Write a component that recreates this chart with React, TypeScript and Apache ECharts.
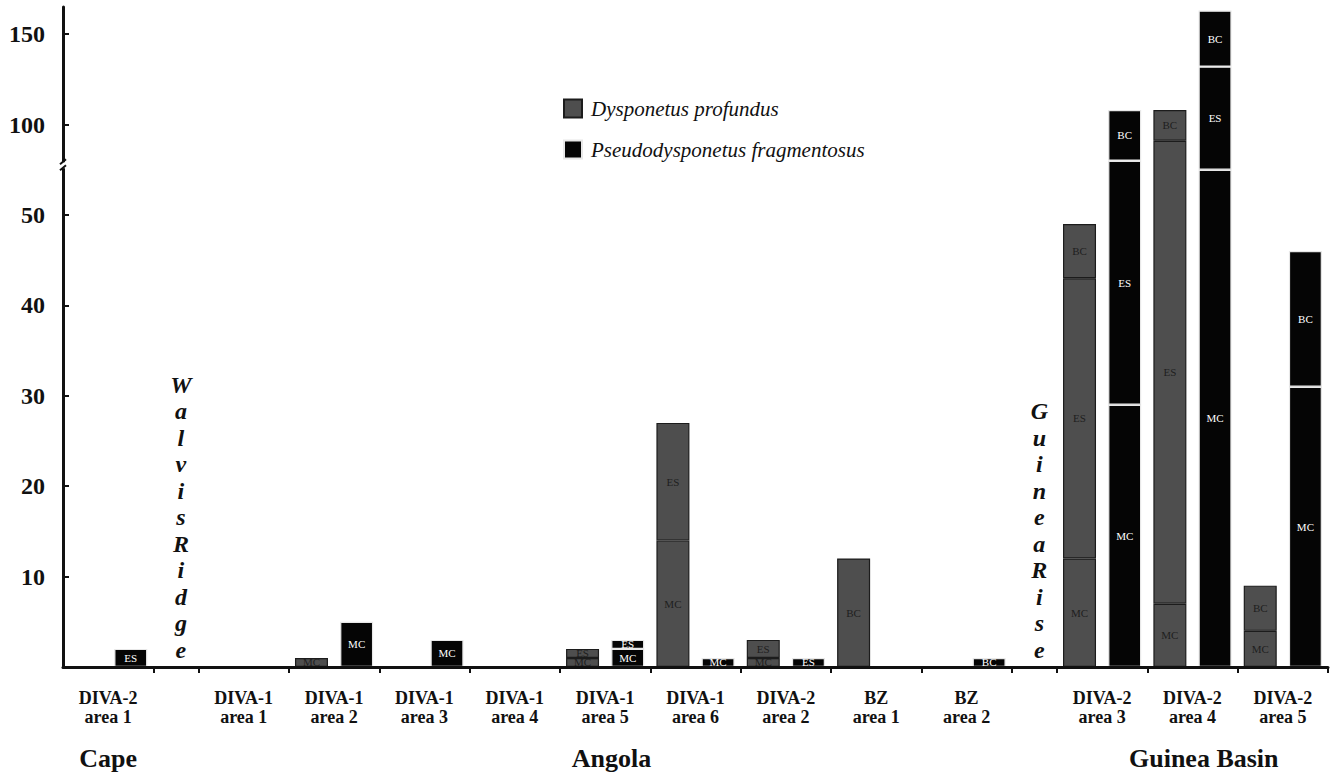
import React, { useEffect, useRef } from "react";
import * as echarts from "echarts";

const SERIF = "Liberation Serif";

// x groups in order (ridges take half the width of a sampling area)
const groups = [
  "DIVA-2\narea 1",
  "Walvis Ridge",
  "DIVA-1\narea 1",
  "DIVA-1\narea 2",
  "DIVA-1\narea 3",
  "DIVA-1\narea 4",
  "DIVA-1\narea 5",
  "DIVA-1\narea 6",
  "DIVA-2\narea 2",
  "BZ\narea 1",
  "BZ\narea 2",
  "Guinea Rise",
  "DIVA-2\narea 3",
  "DIVA-2\narea 4",
  "DIVA-2\narea 5",
];
const ridges = ["Walvis Ridge", "Guinea Rise"];
const areas = groups.filter((g) => !ridges.includes(g));

const regions = [
  { name: "Cape", from: "DIVA-2\narea 1", to: "DIVA-2\narea 1" },
  { name: "Angola", from: "DIVA-1\narea 1", to: "BZ\narea 2" },
  { name: "Guinea Basin", from: "DIVA-2\narea 3", to: "DIVA-2\narea 5" },
];

// counts per area (same order as `areas`)
const profundusMC = [0, 0, 1, 0, 0, 1, 14, 1, 0, 0, 12, 7, 4];
const profundusES = [0, 0, 0, 0, 0, 1, 13, 2, 0, 0, 31, 84, 0];
const profundusBC = [0, 0, 0, 0, 0, 0, 0, 0, 12, 0, 6, 17, 5];
const fragmentosusMC = [0, 0, 5, 3, 0, 2, 1, 0, 0, 0, 29, 55, 31];
const fragmentosusES = [2, 0, 0, 0, 0, 1, 0, 1, 0, 0, 51, 77, 0];
const fragmentosusBC = [0, 0, 0, 0, 0, 0, 0, 0, 0, 1, 28, 31, 15];

const segmentNames = ["MC", "ES", "BC"];
const yTickValues = [10, 20, 30, 40, 50, 100, 150];

// broken axis: linear up to 55, gap, then compressed scale from 75 upward
const BREAK_LOW = 55;
const BREAK_HIGH = 75;
const UPPER_COMPRESS = 5;
const T = (v: number) => (v <= BREAK_LOW ? v : BREAK_LOW + (v - BREAK_HIGH) / UPPER_COMPRESS);

export default function App() {
  const ref = useRef<HTMLDivElement>(null);

  useEffect(() => {
    if (!ref.current) return;
    const chart = echarts.init(ref.current, undefined, { renderer: "svg" });

    // layout of the x scale in half-slot units
    let cursor = 0;
    const center: Record<string, number> = {};
    const starts: Record<string, number> = {};
    const ends: Record<string, number> = {};
    const boundaries: number[] = [];
    groups.forEach((g) => {
      const w = ridges.includes(g) ? 1 : 2;
      starts[g] = cursor;
      center[g] = cursor + w / 2;
      cursor += w;
      ends[g] = cursor;
      boundaries.push(cursor);
    });
    const xMax = cursor;
    const slots = Array.from({ length: xMax }, (_, i) => "s" + i);
    const regionShift: Record<string, number> = { Cape: 0, Angola: 0.14, "Guinea Basin": 0.25 };

    const species = [
      {
        name: "Dysponetus profundus",
        segs: [profundusMC, profundusES, profundusBC],
        color: "#4e4e4e",
        border: "#1c1c1c",
        labelColor: "#1e1e1e",
        slotOffset: 0,
        stack: "p",
      },
      {
        name: "Pseudodysponetus fragmentosus",
        segs: [fragmentosusMC, fragmentosusES, fragmentosusBC],
        color: "#050505",
        border: "#e8e8e8",
        labelColor: "#ffffff",
        slotOffset: 1,
        stack: "f",
      },
    ];

    const series: any[] = [];
    species.forEach((sp) => {
      sp.segs.forEach((seg, k) => {
        const data: any[] = slots.map(() => "-");
        areas.forEach((a, i) => {
          let prev = 0;
          for (let j = 0; j < k; j++) prev += sp.segs[j][i];
          const cur = prev + seg[i];
          const item: any = { value: T(cur) - T(prev), raw: seg[i] };
          if (seg[i] === 0) item.itemStyle = { borderWidth: 0 };
          data[starts[a] + sp.slotOffset] = item;
        });
        series.push({
          type: "bar",
          name: sp.name,
          stack: sp.stack,
          xAxisIndex: 1,
          barWidth: 33,
          barGap: "-100%",
          itemStyle: { color: sp.color, borderColor: sp.border, borderWidth: 1.2 },
          label: {
            show: true,
            position: "inside",
            fontFamily: SERIF,
            fontSize: 11,
            color: sp.labelColor,
            formatter: (p: any) => (p.data && p.data.raw > 0 ? segmentNames[k] : ""),
          },
          data,
        });
      });
    });

    // ridge vertical labels
    series.push({
      type: "scatter",
      symbolSize: 0,
      silent: true,
      clip: false,
      z: 3,
      itemStyle: { opacity: 1 },
      label: {
        show: true,
        position: "top",
        distance: 4,
        fontFamily: SERIF,
        fontStyle: "italic",
        fontWeight: "bold",
        fontSize: 24,
        lineHeight: 26.5,
        color: "#111",
        formatter: (p: any) => p.name,
      },
      data: ridges.map((r) => ({
        name: r.replace(" ", "").split("").join("\n"),
        value: [center[r] + 0.11, 0],
      })),
    });

    // region labels
    series.push({
      type: "scatter",
      symbolSize: 0,
      silent: true,
      clip: false,
      itemStyle: { opacity: 1 },
      label: {
        show: true,
        position: "bottom",
        distance: 78,
        fontFamily: SERIF,
        fontWeight: "bold",
        fontSize: 26,
        color: "#111",
        formatter: (p: any) => p.name,
      },
      data: regions.map((r) => ({
        name: r.name,
        value: [(starts[r.from] + ends[r.to]) / 2 + regionShift[r.name], 0],
      })),
    });

    const labelByKey: Record<string, string> = {};
    areas.forEach((a) => (labelByKey[String(Math.round(center[a] * 2))] = a));

    chart.setOption({
      animation: false,
      backgroundColor: "#ffffff",
      grid: { left: 63, right: 7, top: 7, bottom: 106 },
      legend: {
        data: species.map((s) => s.name),
        orient: "vertical",
        left: 563,
        top: 98,
        padding: 0,
        itemWidth: 18,
        itemHeight: 18,
        itemGap: 20,
        icon: "rect",
        selectedMode: false,
        textStyle: {
          fontFamily: SERIF,
          fontStyle: "italic",
          fontSize: 21,
          color: "#111",
          padding: [0, 0, 0, 4],
        },
      },
      xAxis: [
        {
          type: "value",
          min: 0,
          max: xMax,
          z: 5,
          splitLine: { show: false },
          axisLine: { show: true, lineStyle: { color: "#111", width: 3 } },
          axisTick: {
            show: true,
            length: 6,
            customValues: boundaries,
            lineStyle: { color: "#111", width: 2 },
          },
          axisLabel: {
            show: true,
            customValues: areas.map((a) => center[a]),
            margin: 21,
            fontFamily: SERIF,
            fontWeight: "bold",
            fontSize: 18,
            lineHeight: 19,
            color: "#111",
            formatter: (v: number) => labelByKey[String(Math.round(v * 2))] || "",
          },
        },
        {
          type: "category",
          data: slots,
          show: false,
          boundaryGap: true,
        },
      ],
      yAxis: {
        type: "value",
        min: 0,
        max: 73,
        z: 5,
        splitLine: { show: false },
        axisLine: { show: true, lineStyle: { color: "#111", width: 3 } },
        axisTick: {
          show: true,
          inside: true,
          length: 6,
          customValues: yTickValues.map(T),
          lineStyle: { color: "#111", width: 2 },
        },
        axisLabel: {
          show: true,
          customValues: yTickValues.map(T),
          margin: 18,
          fontFamily: SERIF,
          fontWeight: "bold",
          fontSize: 24,
          color: "#111",
          formatter: (v: number) => {
            const match = yTickValues.find((t) => Math.abs(T(t) - v) < 1e-6);
            return match !== undefined ? String(match) : "";
          },
        },
      },
      series,
    });

    // axis break marker
    const p = chart.convertToPixel({ xAxisIndex: 0, yAxisIndex: 0 }, [0, 55.5]) as number[];
    if (p) {
      const [bx, by] = p;
      chart.setOption({
        graphic: [
          {
            type: "rect",
            z: 100,
            shape: { x: bx - 4, y: by - 3, width: 8, height: 6 },
            style: { fill: "#ffffff" },
          },
          {
            type: "line",
            z: 101,
            shape: { x1: bx - 3, y1: by - 1, x2: bx + 3, y2: by - 6 },
            style: { stroke: "#111", lineWidth: 2 },
          },
          {
            type: "line",
            z: 101,
            shape: { x1: bx - 3, y1: by + 5, x2: bx + 3, y2: by },
            style: { stroke: "#111", lineWidth: 2 },
          },
        ],
      });
    }

    return () => chart.dispose();
  }, []);

  return (
    <div
      ref={ref}
      style={{ position: "fixed", left: 0, top: 0, width: 1335, height: 773, background: "#fff" }}
    />
  );
}
